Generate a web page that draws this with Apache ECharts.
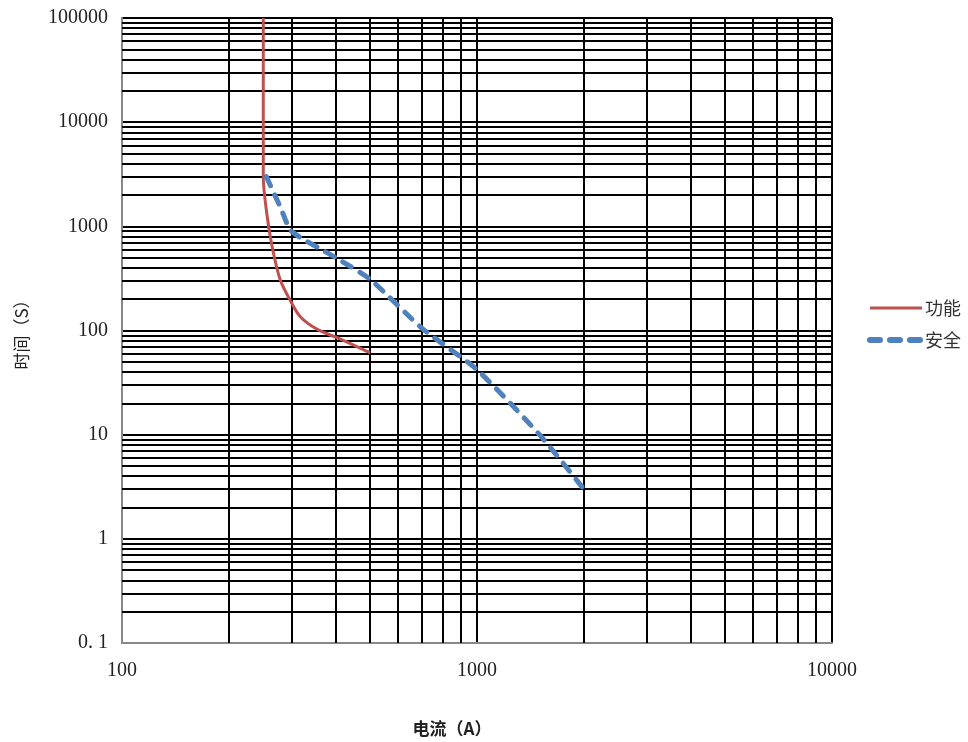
<!DOCTYPE html>
<html><head><meta charset="utf-8">
<script src="https://cdn.jsdelivr.net/npm/echarts@6/dist/echarts.min.js"></script>
<style>html,body{margin:0;padding:0;background:#fff}#c{width:968px;height:742px}</style>
</head><body><div id="c"></div>
<script>
// Series data [current A, time s]
const funcName = '功能';
const safeName = '安全';
const funcData = [[250,100000],[250,3000],[256,1300],[265,630],[279,307],[297,198],[317,137],[354,103],[411,83],[500,61]];
const safeData = [[255,3000],[280,1500],[300,900],[400,500],[500,310],[700,105],[1000,42],[1500,10],[2000,3]];
const xTickLabels = ['100','1000','10000'];
const yTickLabels = ['0. 1','1','10','100','1000','10000','100000'];
const xName = '电流（A）';
const yName = '时间（S）';

// minor grid positions (log paper 2..9 per decade)
const gridX = [];
for (let d = 100; d < 10000; d *= 10) for (let k = 2; k <= 9; k++) gridX.push(d * k);
const gridY = [];
for (let d = 0.1; d < 100000; d *= 10) for (let k = 2; k <= 9; k++) gridY.push(+(d * k).toPrecision(6));

const chart = echarts.init(document.getElementById('c'));
const labelFont = '"Liberation Serif", "Noto Sans CJK SC", serif';
chart.setOption({
  animation: false,
  backgroundColor: '#fff',
  grid: {left: 122, right: 136, top: 18, bottom: 91},
  legend: {
    orient: 'vertical', left: 862, top: 294, itemWidth: 52, itemHeight: 14, itemGap: 14,
    itemStyle: {opacity: 0},
    data: [
      {name: funcName, lineStyle: {width: 3}},
      {name: safeName, lineStyle: {width: 6, type: [10, 10], cap: 'round'}}
    ],
    textStyle: {fontSize: 18, color: '#333', fontFamily: '"Noto Sans CJK SC", serif', padding: [0, 0, 0, -2]}
  },
  xAxis: {
    type: 'log', logBase: 10, min: 100, max: 10000,
    name: xName, nameLocation: 'middle', nameGap: 77,
    nameTextStyle: {fontSize: 17, fontWeight: 'bold', color: '#222', fontFamily: '"Noto Sans CJK SC", serif', padding: [0, 50, 0, 0]},
    axisLine: {lineStyle: {color: '#888', width: 2}},
    axisTick: {show: false},
    axisLabel: {margin: 18, fontSize: 20, color: '#222', fontFamily: labelFont,
      formatter: v => xTickLabels[Math.round(Math.log10(v)) - 2]},
    splitLine: {show: true, lineStyle: {color: '#000', width: 2}}
  },
  yAxis: {
    type: 'log', logBase: 10, min: 0.1, max: 100000,
    name: yName, nameLocation: 'middle', nameGap: 92, nameRotate: 90,
    nameTextStyle: {fontSize: 17, color: '#222', fontFamily: '"Noto Sans CJK SC", serif'},
    axisLine: {show: true, lineStyle: {color: '#888', width: 2}},
    axisTick: {show: false},
    axisLabel: {margin: 14, fontSize: 20, color: '#222', fontFamily: labelFont,
      formatter: v => yTickLabels[Math.round(Math.log10(v)) + 1]},
    splitLine: {show: true, lineStyle: {color: '#000', width: 2}}
  },
  series: [
    {
      name: 'grid', type: 'line', data: [], silent: true, z: 1,
      markLine: {
        silent: true, symbol: 'none', animation: false, label: {show: false},
        lineStyle: {color: '#000', width: 2, type: 'solid'},
        data: gridX.map(v => ({xAxis: v})).concat(gridY.map(v => ({yAxis: v})))
      }
    },
    {
      name: funcName, type: 'line', data: funcData, smooth: 0.3, symbol: 'none', z: 5,
      itemStyle: {color: '#C0504D'},
      lineStyle: {color: '#C0504D', width: 3}
    },
    {
      name: safeName, type: 'line', data: safeData, smooth: 0.2, symbol: 'none', z: 5,
      itemStyle: {color: '#4F81BD'},
      lineStyle: {color: '#4F81BD', width: 5, type: [10, 10], cap: 'round'}
    }
  ]
});
</script></body></html>
